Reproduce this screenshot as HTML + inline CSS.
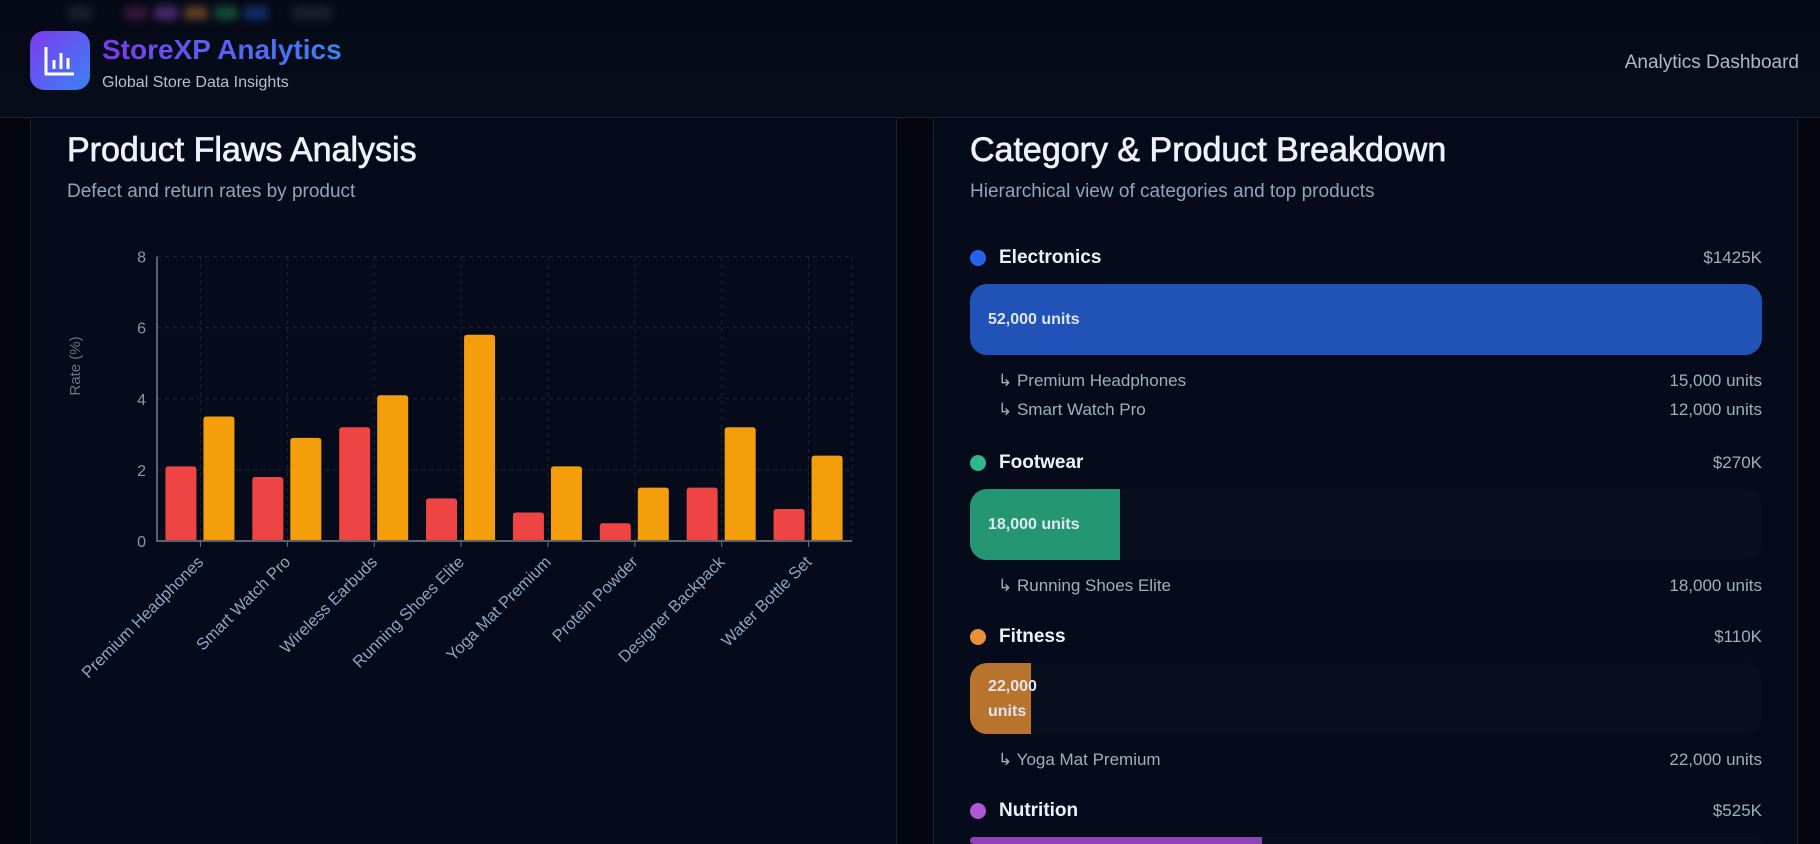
<!DOCTYPE html>
<html style="width:1820px;height:844px;overflow:hidden"><head><meta charset="utf-8">
<style>
*{box-sizing:border-box;margin:0;padding:0}
body{width:1820px;height:844px;overflow:hidden;background:#03060f;font-family:"Liberation Sans",sans-serif;position:relative}
.header{position:absolute;left:0;top:0;width:1820px;height:118px;background:linear-gradient(#050a17,#070c1a);border-bottom:1px solid #1e2638}
.blob{position:absolute;top:6px;height:14px;width:24px;filter:blur(4px);opacity:.55;border-radius:4px}
.logo{position:absolute;left:30px;top:31px;width:60px;height:59px;border-radius:14px;background:linear-gradient(135deg,#7c3aed,#3b82f6)}
.brand{position:absolute;left:102px;top:34px;font-size:28px;font-weight:bold;background:linear-gradient(90deg,#7c3aed,#3b82f6);-webkit-background-clip:text;color:transparent}
.tag{position:absolute;left:102px;top:74px;font-size:16px;color:#b6c0cf}
.dash{position:absolute;right:21px;top:52px;font-size:19px;color:#aeb8c8}
.panel{position:absolute;top:119px;height:725px;background:#050b1b;border-left:1px solid #1b2232;border-right:1px solid #1b2232}
.ptitle{position:absolute;font-size:34px;color:#eef2f8;font-weight:normal;-webkit-text-stroke:0.7px #eef2f8}
.psub{position:absolute;font-size:19px;color:#94a3b8}
#cats{position:absolute;left:0;top:0;width:1820px;height:844px;overflow:hidden}
.cat{position:absolute;left:970px;width:792px}
.dot{position:absolute;left:0;width:16px;height:16px;border-radius:50%}
.cname{position:absolute;left:29px;top:1px;font-size:19px;font-weight:bold;color:#eef2f8}
.cval{position:absolute;right:0;font-size:17px;color:#a0aec0}
.track{position:absolute;left:0;width:792px;height:71px;border-radius:17px;background:#0a0f1f;overflow:hidden}
.fill{position:absolute;left:0;top:0;height:100%;display:flex;align-items:center;padding-left:18px;font-size:16px;font-weight:bold;color:#dfe6f0;line-height:25px}
.sub{position:absolute;left:28px;right:0;font-size:17px;color:#a0aec0}
.sub span{position:absolute;right:0}
</style></head><body>
<div class="header">
 <div class="blob" style="left:68px;background:#2a3040"></div>
 <div class="blob" style="left:124px;background:#5a1f50"></div>
 <div class="blob" style="left:154px;background:#7b3fb0"></div>
 <div class="blob" style="left:184px;background:#a8652a"></div>
 <div class="blob" style="left:214px;background:#1e7a55"></div>
 <div class="blob" style="left:244px;background:#1e4aa8"></div>
 <div class="blob" style="left:292px;background:#2a3040;width:40px"></div>
 <div class="logo">
  <svg width="60" height="59" viewBox="0 0 60 59"><path d="M16 16 V43 H44" stroke="#fff" stroke-width="3" fill="none"/><path d="M24 38V29M31 38V22M38 38V27" stroke="#fff" stroke-width="3"/></svg>
 </div>
 <div class="brand">StoreXP Analytics</div>
 <div class="tag">Global Store Data Insights</div>
 <div class="dash">Analytics Dashboard</div>
</div>

<div class="panel" style="left:30px;width:867px"></div>
<div class="panel" style="left:933px;width:865px"></div>

<div class="ptitle" style="left:67px;top:131px">Product Flaws Analysis</div>
<div class="psub" style="left:67px;top:181px">Defect and return rates by product</div>

<svg id="chart" style="position:absolute;left:0;top:0" width="900" height="844"></svg>

<div class="ptitle" style="left:970px;top:131px">Category &amp; Product Breakdown</div>
<div class="psub" style="left:970px;top:181px">Hierarchical view of categories and top products</div>

<div id="cats"></div>

<script>
const categories=["Premium Headphones","Smart Watch Pro","Wireless Earbuds","Running Shoes Elite","Yoga Mat Premium","Protein Powder","Designer Backpack","Water Bottle Set"];
const defectRates=[2.1,1.8,3.2,1.2,0.8,0.5,1.5,0.9];
const returnRates=[3.5,2.9,4.1,5.8,2.1,1.5,3.2,2.4];
const yTicks=[0,2,4,6,8];

const NS="http://www.w3.org/2000/svg";
const svg=document.getElementById('chart');
const X0=157,X1=852,Y0=541,Y1=256.5,YMAX=8;
const band=(X1-X0)/categories.length;
const y=v=>Y0-(v/YMAX)*(Y0-Y1);
const xc=i=>X0+band*(i+0.5);
function mk(t,a){const e=document.createElementNS(NS,t);for(const k in a)e.setAttribute(k,a[k]);svg.appendChild(e);return e;}
yTicks.forEach(t=>{
 if(t>0){const g=mk('line',{x1:X0,x2:X1,y1:y(t),y2:y(t),stroke:'#1e2536','stroke-dasharray':'4 4'});
 
 }
 const l=mk('text',{x:146,y:y(t)+6,'text-anchor':'end','font-size':16,fill:'#8b96a8'});l.textContent=t;
 
 
});
categories.forEach((c,i)=>{
 const g=mk('line',{x1:xc(i),x2:xc(i),y1:Y1,y2:Y0,stroke:'#1e2536','stroke-dasharray':'4 4'});
 
 
});
mk('line',{x1:X1,x2:X1,y1:Y1,y2:Y0,stroke:'#1e2536','stroke-dasharray':'4 4'});
function bar(x,w,v,col,name){
 const ty=y(v),r=3;
 const p=mk('path',{d:`M${x},${Y0}V${ty+r}Q${x},${ty} ${x+r},${ty}H${x+w-r}Q${x+w},${ty} ${x+w},${ty+r}V${Y0}Z`,fill:col});
 
 
}
categories.forEach((c,i)=>{
 bar(xc(i)-35,31,defectRates[i],'#ef4444','bar-defect-rate');
 bar(xc(i)+3,31,returnRates[i],'#f59e0b','bar-return-rate');
 const tk=mk('line',{x1:xc(i),x2:xc(i),y1:Y0,y2:Y0+6,stroke:'#6b7280'});
 
 
 const t=mk('text',{x:xc(i)+4,y:Y0+22,'text-anchor':'end','font-size':16.5,fill:'#8fa3bf',transform:`rotate(-45 ${xc(i)+4} ${Y0+22})`});
 t.textContent=c;
 
 
});
const ax=mk('path',{d:`M${X0},${Y1}V${Y0}H${X1}`,stroke:'#5b6270','stroke-width':2,fill:'none'});


const yl=mk('text',{x:80,y:366,'text-anchor':'middle','font-size':15,fill:'#6b7484',transform:'rotate(-90 80 366)'});
yl.textContent='Rate (%)';



// breakdown
const catNames=["Electronics","Footwear","Fitness","Nutrition"];
const catRevenue=[1425,270,110,525];
const catUnits=["52,000 units","18,000 units","22,000 units",""];
const catProducts=[["Premium Headphones","Smart Watch Pro"],["Running Shoes Elite"],["Yoga Mat Premium"],[]];
const productUnits=[["15,000 units","12,000 units"],["18,000 units"],["22,000 units"],[]];
const dotCols=["#2563eb","#2fb98a","#e8913a","#b256d8"];
const barCols=["#2152b8","#259672","#b8732c","#8e44b4"];
const cont=document.getElementById('cats');
const maxRev=Math.max(...catRevenue);
let rowTop=246;
catNames.forEach((n,i)=>{
 const d=document.createElement('div');d.className='cat';d.style.top=rowTop+'px';
 
 
 const w=Math.round(792*catRevenue[i]/maxRev);
 let html=`<div class="dot" style="top:4px;background:${dotCols[i]}"></div>
 <div class="cname">${n}</div>
 <div class="cval" style="top:2px">$${catRevenue[i]}K</div>
 <div class="track" style="top:38px;${i===3?'height:7px':''}"><div class="fill" style="width:${w}px;background:${barCols[i]}">${catUnits[i]}</div></div>`;
 catProducts[i].forEach((p,j)=>{html+=`<div class="sub" style="top:${125+j*29}px">↳ ${p}<span>${productUnits[i][j]}</span></div>`;});
 d.innerHTML=html;cont.appendChild(d);
 const dot=d.querySelector('.dot');
 
 
 const tr=d.querySelector('.track');
 
 
 rowTop+= i===0?205:174;
});
</script>
</body></html>
